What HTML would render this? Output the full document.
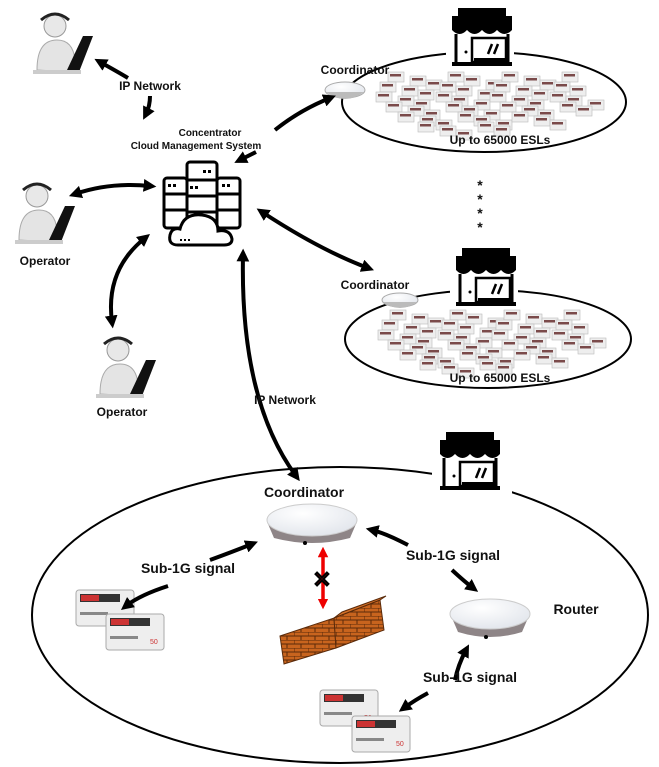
<!DOCTYPE html>
<html><head><meta charset="utf-8"><style>
body{margin:0;background:#fff}
svg{display:block}
text{font-family:"Liberation Sans",sans-serif;font-weight:bold;fill:#111}
</style></head><body>
<svg id="s" width="659" height="767" viewBox="0 0 659 767" xmlns="http://www.w3.org/2000/svg">
<defs>
<marker id="a" viewBox="0 0 10 10" refX="5" refY="5" markerWidth="3.2" markerHeight="3.2" orient="auto-start-reverse"><path d="M0,0L10,5L0,10z" fill="#000"/></marker>
<marker id="r" viewBox="0 0 10 10" refX="5" refY="5" markerWidth="3" markerHeight="3" orient="auto-start-reverse"><path d="M0,0L10,5L0,10z" fill="#e00"/></marker>
<radialGradient id="dome" cx="0.4" cy="0.3" r="0.8"><stop offset="0" stop-color="#fff"/><stop offset="1" stop-color="#dfe3ea"/></radialGradient>
<pattern id="brick" width="14" height="8" patternUnits="userSpaceOnUse"><rect width="14" height="8" fill="#c8641e"/><path d="M0,0h14M0,4h14M0,0v4M7,4v4" stroke="#5a2a0a" stroke-width="1"/></pattern>
<g id="op"><circle cx="22" cy="14" r="11" fill="#e8e8e8" stroke="#999"/><path d="M8,8 q14,-12 28,0" stroke="#222" stroke-width="3" fill="none"/><path d="M4,58 q0,-30 20,-30 q16,0 18,20 l-4,12z" fill="#e4e4e4" stroke="#aaa"/><path d="M34,58 L50,24 L60,24 L46,60z" fill="#111"/><path d="M0,58 L48,58 L48,62 L0,62z" fill="#ccc"/></g>
<g id="store"><path d="M0,8 h60 v14 h-60z" fill="#000"/><path d="M6,0 h48 v8 h-48z" fill="#000"/><path d="M0,22 q7.5,8 15,0 q7.5,8 15,0 q7.5,8 15,0 q7.5,8 15,0" fill="#000"/><path d="M4,26 v28 M56,26 v28" stroke="#000" stroke-width="3"/><rect x="20" y="30" width="34" height="24" fill="none" stroke="#000" stroke-width="2.5"/><rect x="22" y="50" width="32" height="5" fill="#000"/><path d="M36,46 l4,-10 M42,46 l4,-10" stroke="#000" stroke-width="2.5"/><circle cx="14" cy="44" r="1.5"/><rect x="0" y="54" width="60" height="4" fill="#000"/></g>
<g id="tag"><rect x="0" y="0" width="58" height="36" rx="3" fill="#eee" stroke="#aaa"/><rect x="4" y="4" width="40" height="8" fill="#333"/><rect x="5" y="5" width="18" height="6" fill="#c33"/><rect x="4" y="22" width="28" height="3" fill="#888"/><text x="44" y="30" font-size="7" style="fill:#c33;font-weight:normal">50</text></g>
<g id="mini"><rect x="0" y="0" width="16" height="10" fill="#eee" stroke="#bbb" stroke-width="0.6"/><rect x="2" y="2" width="11" height="2.5" fill="#7a4a4a"/></g>
</defs>

<ellipse cx="484" cy="102" rx="142" ry="50" fill="none" stroke="#000" stroke-width="2"/>
<ellipse cx="488" cy="339" rx="143" ry="49" fill="none" stroke="#000" stroke-width="2"/>
<ellipse cx="340" cy="615" rx="308" ry="148" fill="none" stroke="#000" stroke-width="2"/>

<rect x="446" y="4" width="68" height="62" fill="#fff"/><use href="#store" x="452" y="8"/>
<rect x="450" y="244" width="68" height="62" fill="#fff"/><use href="#store" x="456" y="248"/>
<rect x="432" y="428" width="80" height="72" fill="#fff"/><use href="#store" x="440" y="432"/>

<use href="#op" x="33" y="12"/>
<use href="#op" x="15" y="182"/>
<use href="#op" x="96" y="336"/>

<g fill="none" stroke="#000" stroke-width="3">
<rect x="187" y="162" width="30" height="72" rx="3"/>
<rect x="164" y="178" width="23" height="50" rx="3"/>
<rect x="217" y="178" width="23" height="50" rx="3"/>
<path d="M187,180h30M187,196h30M187,212h30M164,194h23M164,210h23M217,194h23M217,210h23"/>
<path d="M178,245 q-10,0 -8,-10 q2,-8 10,-6 q4,-16 22,-14 q16,2 16,16 q12,-2 14,8 q0,6 -8,6z" fill="#fff"/>
</g>
<g fill="#000"><rect x="203" y="170" width="3" height="3"/><rect x="208" y="170" width="3" height="3"/><rect x="190" y="186" width="3" height="3"/><rect x="195" y="186" width="3" height="3"/><rect x="168" y="184" width="3" height="3"/><rect x="173" y="184" width="3" height="3"/><rect x="222" y="184" width="3" height="3"/><rect x="227" y="184" width="3" height="3"/><rect x="180" y="239" width="2" height="2"/><rect x="184" y="239" width="2" height="2"/><rect x="188" y="239" width="2" height="2"/></g>

<g id="c1"></g><g id="c2"></g>

<ellipse cx="345" cy="90" rx="20" ry="8" fill="url(#dome)" stroke="#aaa"/>
<path d="M326,92 q19,14 38,0" fill="#bbb"/>
<ellipse cx="400" cy="300" rx="18" ry="7" fill="url(#dome)" stroke="#aaa"/>
<path d="M383,302 q17,12 34,0" fill="#bbb"/>

<path d="M268,524 l6,14 q38,10 76,0 l6,-14z" fill="#8e8587"/>
<ellipse cx="312" cy="520" rx="45" ry="16" fill="url(#dome)" stroke="#ccc"/>
<circle cx="305" cy="543" r="2" fill="#000"/>
<path d="M452,618 l6,14 q32,10 64,0 l6,-14z" fill="#8e8587"/>
<ellipse cx="490" cy="614" rx="40" ry="15" fill="url(#dome)" stroke="#ccc"/>
<circle cx="486" cy="637" r="2" fill="#000"/>

<g stroke="#5a2a0a" stroke-width="1">
<path d="M280,636 L334,618 L336,648 L284,664z" fill="url(#brick)"/>
<path d="M334,618 L380,600 L384,630 L336,648z" fill="url(#brick)"/>
<path d="M334,618 L342,612 L386,596 L380,600z" fill="#d47028"/>
</g>

<use href="#tag" x="76" y="590"/><use href="#tag" x="106" y="614"/>
<use href="#tag" x="320" y="690"/><use href="#tag" x="352" y="716"/>

<g fill="none" stroke="#000" stroke-width="4" marker-start="url(#a)" marker-end="url(#a)">
<path d="M100,62 Q118,72 128,78" marker-end="none"/>
<path d="M150,96 Q150,106 146,114" marker-start="none"/>
<path d="M275,130 Q300,110 330,98" marker-start="none"/>
<path d="M256,152 L240,160" marker-start="none"/>
<path d="M75,194 Q110,182 150,186"/>
<path d="M145,238 Q105,270 112,322"/>
<path d="M262,212 Q320,250 368,268"/>
<path d="M243,255 Q240,400 296,476"/>
<path d="M210,560 Q232,552 252,544" marker-start="none"/>
<path d="M168,586 Q140,595 126,606" marker-start="none"/>
<path d="M408,545 Q385,533 372,530" marker-start="none"/>
<path d="M452,570 Q465,582 473,588" marker-start="none"/>
<path d="M455,680 Q458,665 466,650" marker-start="none"/>
<path d="M428,693 Q415,700 404,708" marker-start="none"/>
</g>
<path d="M323,552 L323,604" stroke="#e00" stroke-width="3.5" fill="none" marker-start="url(#r)" marker-end="url(#r)"/>
<text x="322" y="587" font-size="22" text-anchor="middle" style="fill:#d00;stroke:#000;stroke-width:1.2">✕</text>

<text x="150" y="90" font-size="12" text-anchor="middle">IP Network</text>
<text x="210" y="136" font-size="10" text-anchor="middle">Concentrator</text>
<text x="196" y="149" font-size="10" text-anchor="middle">Cloud Management System</text>
<text x="45" y="265" font-size="12" text-anchor="middle">Operator</text>
<text x="122" y="416" font-size="12" text-anchor="middle">Operator</text>
<text x="355" y="74" font-size="12" text-anchor="middle">Coordinator</text>
<text x="500" y="144" font-size="12" text-anchor="middle">Up to 65000 ESLs</text>
<text x="375" y="289" font-size="12" text-anchor="middle">Coordinator</text>
<text x="500" y="382" font-size="12" text-anchor="middle">Up to 65000 ESLs</text>
<text x="285" y="404" font-size="12" text-anchor="middle">IP Network</text>
<text x="480" y="190" font-size="14" text-anchor="middle">*</text>
<text x="480" y="204" font-size="14" text-anchor="middle">*</text>
<text x="480" y="218" font-size="14" text-anchor="middle">*</text>
<text x="480" y="232" font-size="14" text-anchor="middle">*</text>
<text x="304" y="497" font-size="14" text-anchor="middle">Coordinator</text>
<text x="188" y="573" font-size="14" text-anchor="middle">Sub-1G signal</text>
<text x="453" y="560" font-size="14" text-anchor="middle">Sub-1G signal</text>
<text x="470" y="682" font-size="14" text-anchor="middle">Sub-1G signal</text>
<text x="576" y="614" font-size="14" text-anchor="middle">Router</text>
</svg>
<script>
var NS="http://www.w3.org/2000/svg";
function fill(id,cx,cy){var g=document.getElementById(id);
var rows=[[-110,-24,10],[-118,-14,11],[-122,-4,12],[-112,6,11],[-100,16,9],[-80,26,5]];
rows.forEach(function(r,i){for(var k=0;k<r[2];k++){var u=document.createElementNS(NS,"use");
u.setAttribute("href","#mini");u.setAttribute("x",cx+r[0]+k*19+((k%2)*3));u.setAttribute("y",cy+r[1]+((k%3)-1)*4);g.appendChild(u);}});}
fill("c1",498,100);fill("c2",500,338);
</script>
</body></html>
